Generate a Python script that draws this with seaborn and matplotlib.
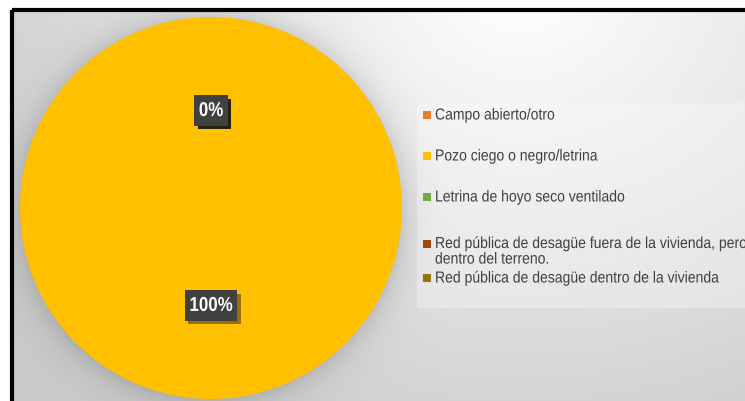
import numpy as np
import matplotlib
matplotlib.use("Agg")
import matplotlib.pyplot as plt
import matplotlib.patheffects as pe
from matplotlib.patches import Rectangle
from matplotlib.transforms import Affine2D
import seaborn as sns

# Data
categories = [
    "Campo abierto/otro",
    "Pozo ciego o negro/letrina",
    "Letrina de hoyo seco ventilado",
    "Red pública de desagüe fuera de la vivienda, pero\ndentro del terreno.",
    "Red pública de desagüe dentro de la vivienda",
]
values = [0, 100, 0, 0, 0]
colors = ["#ED7D31", "#FFC000", "#70AD47", "#9E480E", "#997300"]

sns.set_theme(style="white")
plt.rcParams["font.family"] = ["Liberation Sans", "DejaVu Sans"]
palette = sns.color_palette(colors)


def _squeeze(affine, x0, sx):
    return affine + Affine2D().translate(-x0, 0).scale(sx, 1).translate(x0, 0)


class SqueezedNormal(pe.AbstractPathEffect):
    """Draw the artist compressed horizontally about x0 (display px)."""

    def __init__(self, x0, sx):
        super().__init__()
        self.x0, self.sx = x0, sx

    def draw_path(self, renderer, gc, tpath, affine, rgbFace=None):
        renderer.draw_path(gc, tpath, _squeeze(affine, self.x0, self.sx), rgbFace)


class SqueezedShadow(pe.SimplePatchShadow):
    def __init__(self, x0, sx, **kw):
        super().__init__(**kw)
        self.x0, self.sx = x0, sx

    def draw_path(self, renderer, gc, tpath, affine, rgbFace=None):
        super().draw_path(renderer, gc, tpath, _squeeze(affine, self.x0, self.sx), rgbFace)


W, H = 745, 401
fig = plt.figure(figsize=(W / 100, H / 100), dpi=100)

# Background: soft grey radial gradient with a halo around the pie
bg = fig.add_axes([0, 0, 1, 1], zorder=0)
yy, xx = np.mgrid[0:H, 0:W]
r = np.sqrt(((xx - 520) / 520.0) ** 2 + ((yy + 10) / 420.0) ** 2)
shade = 1.0 - 0.17 * np.clip(r, 0, 1.2)
d = np.sqrt((xx - 211) ** 2 + (yy - 208) ** 2) - 191
shade -= 0.11 * np.exp(-np.clip(d, 0, None) / 15.0) * (d > -5)
shade = np.clip(shade, 0, 1)
img = np.dstack([shade] * 3)
# white margin outside the frame
img[:9, :, :] = 1.0
img[:, :11, :] = 1.0
bg.imshow(img, extent=[0, W, H, 0], aspect="auto", interpolation="bilinear")
bg.set_xlim(0, W)
bg.set_ylim(H, 0)
bg.axis("off")

# Lighter legend panel
bg.add_patch(Rectangle((417, 103), 340, 205, facecolor="white", alpha=0.28,
                       edgecolor="none"))
# Black frame running off the right and bottom edges
bg.add_patch(Rectangle((12, 9.5), 760, 420, facecolor="none", edgecolor="black",
                       linewidth=3.0, joinstyle="round"))

# Pie
cx, cy, R = 211, 208, 191
ax = fig.add_axes([(cx - R) / W, (H - cy - R) / H, 2 * R / W, 2 * R / H], zorder=2)
wedges, texts, autotexts = ax.pie(
    values, colors=palette, startangle=90, counterclock=False,
    autopct=lambda p: f"{p:.0f}%", pctdistance=0.51,
    wedgeprops=dict(linewidth=0),
    textprops=dict(color="white", fontsize=14.5, fontweight="bold"),
)
ax.set_xlim(-1, 1)
ax.set_ylim(-1, 1)
ax.axis("off")
for t in autotexts:
    x0 = ax.transData.transform(t.get_position())[0]
    t.set_bbox(dict(boxstyle="square,pad=0.28", facecolor="#404040", edgecolor="none"))
    t.get_bbox_patch().set_path_effects(
        [SqueezedShadow(x0, 0.84, offset=(2.5, -2.5), alpha=0.45),
         SqueezedNormal(x0, 0.84)])
    t.set_path_effects([SqueezedNormal(x0, 0.84)])

# Legend
legend_rows = [115, 156, 197, 244, 278]
text_x = 435
tx0 = bg.transData.transform((text_x, 0))[0]
for name, col, yrow in zip(categories, palette, legend_rows):
    bg.add_patch(Rectangle((423, yrow - 4), 8, 8, facecolor=col, edgecolor="none"))
    multi = "\n" in name
    txt = bg.text(text_x, yrow - 8 if multi else yrow, name, fontsize=11.5,
                  color="#404040", ha="left", va="top" if multi else "center",
                  linespacing=1.05)
    txt.set_path_effects([SqueezedNormal(tx0, 0.876)])

fig.savefig("out.png", dpi=100)
